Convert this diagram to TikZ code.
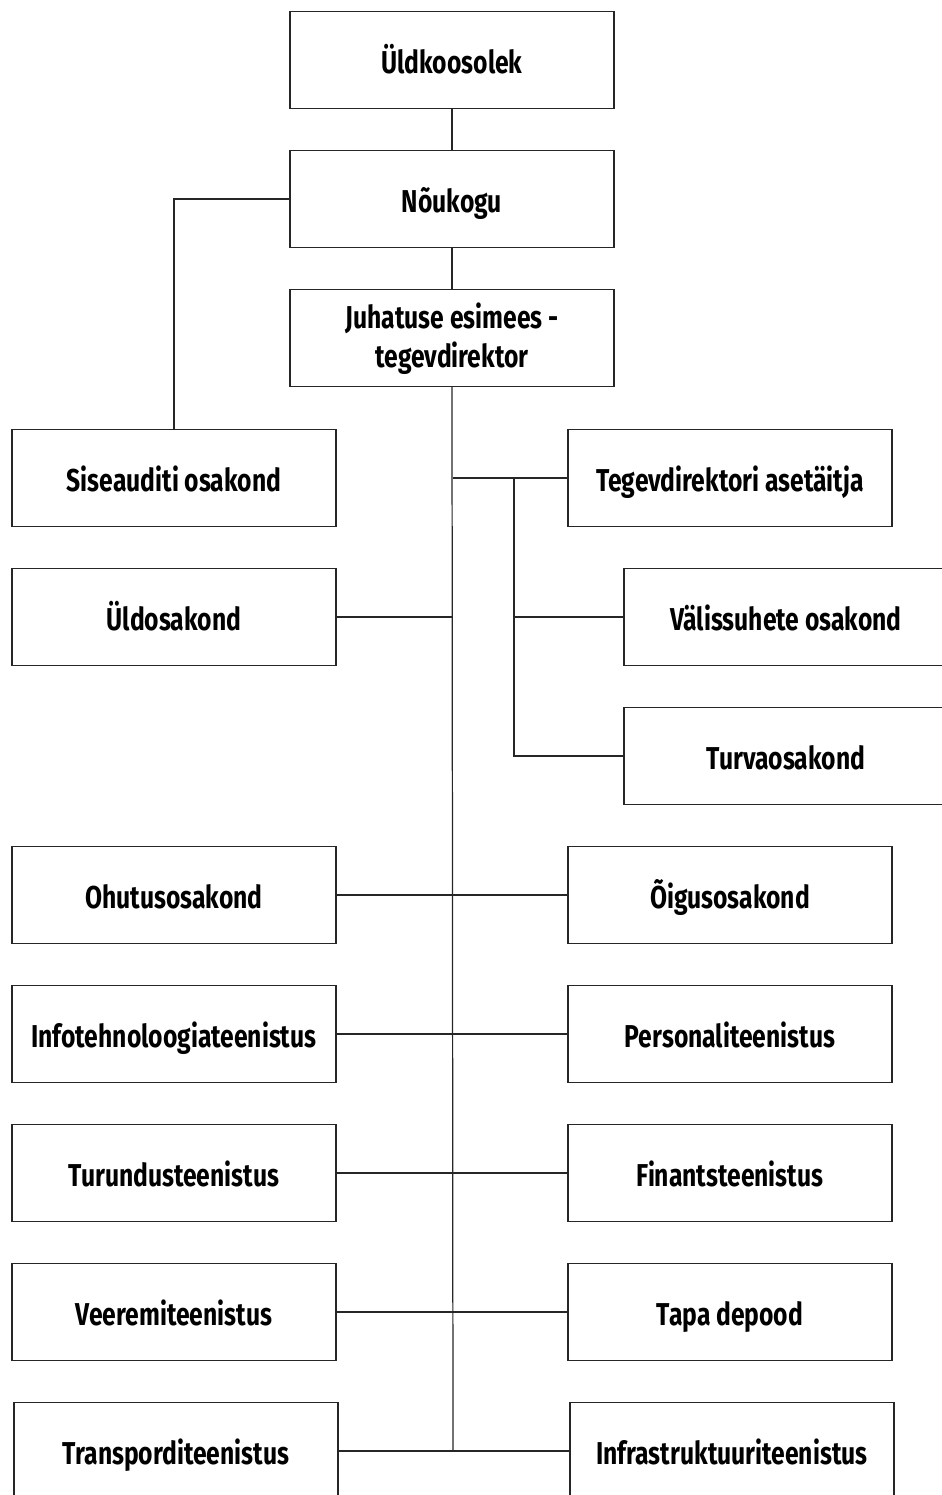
\documentclass[tikz,border=0pt]{standalone}
\usepackage{fontspec}
\newfontfamily\orgfont[FakeStretch=0.78]{Fira Sans}
\usetikzlibrary{positioning}

\begin{document}
\begin{tikzpicture}[
        x=0.02cm, y=-0.02cm,
        unit/.style={draw=black!85, line width=0.7pt, minimum width=6.48cm, minimum height=1.94cm,
            align=center, font=\orgfont\bfseries\fontsize{18}{20}\selectfont},
        oneline/.style={unit, text height=15pt, text depth=0pt},
        link/.style={draw=black!85, line width=0.7pt}
    ]
        \useasboundingbox (0,0) rectangle (941,1495);

        % Top of the hierarchy
        \node[oneline] (yldkoos) at (452,60) {Üldkoosolek};
        \node[oneline] (noukogu) at (452,199) {Nõukogu};
        \node[unit] (juhatus) at (452,338) {\rule{0pt}{15pt}Juhatuse esimees -\\[2pt]tegevdirektor};

        % Units
        \node[oneline] (siseaudit) at (174,478) {Siseauditi osakond};
        \node[oneline] (asetaitja) at (730,478) {Tegevdirektori asetäitja};
        \node[oneline] (yldosak) at (174,617) {Üldosakond};
        \node[oneline] (valis) at (786,617) {Välissuhete osakond};
        \node[oneline] (turva) at (786,756) {Turvaosakond};
        \node[oneline] (ohutus) at (174,895) {Ohutusosakond};
        \node[oneline] (oigus) at (730,895) {Õigusosakond};
        \node[oneline] (infotehn) at (174,1034) {Infotehnoloogiateenistus};
        \node[oneline] (personal) at (730,1034) {Personaliteenistus};
        \node[oneline] (turundus) at (174,1173) {Turundusteenistus};
        \node[oneline] (finants) at (730,1173) {Finantsteenistus};
        \node[oneline] (veeremi) at (174,1312) {Veeremiteenistus};
        \node[oneline] (tapa) at (730,1312) {Tapa depood};
        \node[oneline] (transp) at (176,1451) {Transporditeenistus};
        \node[oneline] (infra) at (732,1451) {Infrastruktuuriteenistus};

        \coordinate (spine) at (453,1451);
        \coordinate (branch) at (514,478);

        % Lines
        \draw[link] (yldkoos) -- (noukogu);
        \draw[link] (noukogu) -- (juhatus);
        \draw[link] (noukogu.west) -| (siseaudit.north);
        \draw[link] (juhatus.south) -- (spine);
        \draw[link] (spine |- asetaitja.west) -- (asetaitja.west);
        \draw[link] (branch) |- (turva.west);
        \draw[link] (branch |- valis.west) -- (valis.west);
        \draw[link] (yldosak.east) -- (spine |- yldosak.east);
        \draw[link] (ohutus.east) -- (oigus.west);
        \draw[link] (infotehn.east) -- (personal.west);
        \draw[link] (turundus.east) -- (finants.west);
        \draw[link] (veeremi.east) -- (tapa.west);
        \draw[link] (transp.east) -- (infra.west);
    \end{tikzpicture}
\end{document}
